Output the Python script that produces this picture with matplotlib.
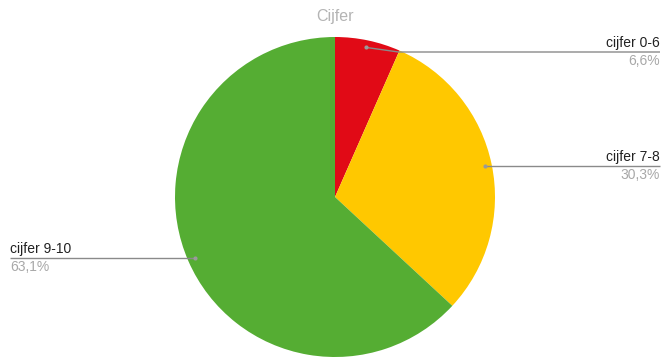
import numpy as np
import matplotlib.pyplot as plt

plt.rcParams['font.family'] = ['Liberation Sans', 'DejaVu Sans']

# grade groups and their share
labels = ['cijfer 0-6', 'cijfer 7-8', 'cijfer 9-10']
shares = [6.6, 30.3, 63.1]
pct_text = ['6,6%', '30,3%', '63,1%']
colors = ['#e10a16', '#ffc800', '#55ad33']

W, H = 665, 360
fig = plt.figure(figsize=(W / 100, H / 100), dpi=100)
ax = fig.add_axes([0, 0, 1, 1])

cx, cy, r = 335, H - 197, 160
wedges, _ = ax.pie(shares, colors=colors, startangle=90, counterclock=False,
                   center=(cx, cy), radius=r, frame=True,
                   wedgeprops=dict(linewidth=0))
ax.set_xlim(0, W)
ax.set_ylim(0, H)
ax.set_aspect('equal')
ax.axis('off')

ax.text(cx, H - 17, 'Cijfer', ha='center', va='center', fontsize=11.5, color='#b4b4b4')

# label side and line height (image rows) per slice; None = level with the dot
sides = ['right', 'right', 'left']
line_y = [52, None, None]
for w, lab, pct, side, ly in zip(wedges, labels, pct_text, sides, line_y):
    mid = np.deg2rad((w.theta1 + w.theta2) / 2)
    dx = cx + 0.955 * r * np.cos(mid)
    dy = cy + 0.955 * r * np.sin(mid)
    ly = dy if ly is None else H - ly
    if side == 'right':
        xs = [dx, dx + 32, 660]
        tx, ha = 660, 'right'
    else:
        xs = [dx, dx - 32, 10]
        tx, ha = 10, 'left'
    ax.plot(xs, [dy, ly, ly], color='#8a8a8a', lw=1.0, solid_capstyle='butt')
    ax.plot(dx, dy, 'o', ms=3, color='#9a9a9a', mec='none')
    ax.text(tx, ly + 2, lab, ha=ha, va='bottom', fontsize=10, color='#222222')
    ax.text(tx, ly - 2, pct, ha=ha, va='top', fontsize=10, color='#a8a8a8')

fig.savefig('out.png', dpi=100)
